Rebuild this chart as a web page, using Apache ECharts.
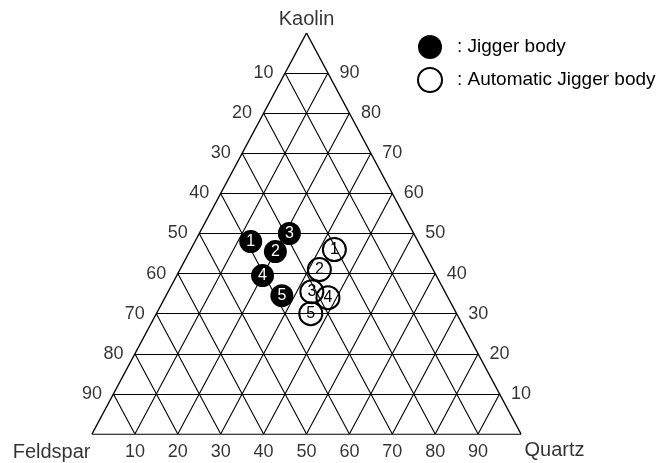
<!DOCTYPE html>
<html>
<head>
<meta charset="utf-8">
<script src="https://cdn.jsdelivr.net/npm/echarts@6/dist/echarts.min.js"></script>
<style>
  html, body { margin: 0; padding: 0; background: #fff; }
  #chart { width: 668px; height: 463px; }
</style>
</head>
<body>
<div id="chart"></div>
<script>
// Ternary composition of the bodies (Kaolin / Feldspar / Quartz, wt%)
const sampleIds = ['1', '2', '3', '4', '5'];

const jiggerKaolin   = [48, 45.5, 50, 39.5, 34.5];
const jiggerFeldspar = [39, 34.5, 29, 40.5, 38.5];
const jiggerQuartz   = [13, 20, 21, 20, 27];

const autoKaolin   = [46, 41, 35.5, 34, 30];
const autoFeldspar = [20.5, 26.5, 31, 28, 34];
const autoQuartz   = [33.5, 32.5, 33.5, 38, 36];

// Grid levels and tick labels on each side of the triangle
const gridLevels   = [10, 20, 30, 40, 50, 60, 70, 80, 90];
const leftTicks    = ['10', '20', '30', '40', '50', '60', '70', '80', '90'];   // Feldspar
const rightTicks   = ['90', '80', '70', '60', '50', '40', '30', '20', '10'];   // Kaolin
const bottomTicks  = ['10', '20', '30', '40', '50', '60', '70', '80', '90'];   // Quartz

const FONT = '"Liberation Sans", Arial, Helvetica, sans-serif';

// ternary (K, F, Q) -> cartesian: apex = Kaolin, bottom-left = Feldspar, bottom-right = Quartz
function toXY(k, f, q) {
  const s = k + f + q;
  return [q / s + (k / s) / 2, k / s];
}

// triangle grid segments
const segments = [];
gridLevels.forEach(v => {
  segments.push({ coords: [toXY(v, 100 - v, 0), toXY(v, 0, 100 - v)] });       // constant Kaolin
  segments.push({ coords: [toXY(0, 100 - v, v), toXY(100 - v, 0, v)] });       // constant Quartz
  segments.push({ coords: [toXY(0, v, 100 - v), toXY(100 - v, v, 0)] });       // constant Feldspar
});
const outline = [
  { coords: [toXY(100, 0, 0), toXY(0, 100, 0)] },
  { coords: [toXY(0, 100, 0), toXY(0, 0, 100)] },
  { coords: [toXY(0, 0, 100), toXY(100, 0, 0)] }
];

function tickPoints(ticks, place) {
  return ticks.map(t => {
    const v = +t;
    let p;
    if (place === 'left') p = toXY(100 - v, v, 0);
    else if (place === 'right') p = toXY(v, 0, 100 - v);
    else p = toXY(0, 100 - v, v);
    return { name: t, value: p };
  });
}

function pointsOf(ks, fs, qs) {
  return ks.map((k, i) => ({ name: sampleIds[i], value: toXY(k, fs[i], qs[i]) }));
}

const hiddenSymbol = { color: 'rgba(0,0,0,0)' };
const tickLabel = (pos, dist) => ({
  show: true, position: pos, distance: dist, formatter: '{b}',
  color: '#000', fontSize: 18, fontFamily: FONT
});

const option = {
  animation: false,
  grid: { left: 92, right: 147, top: 33, bottom: 29 },
  xAxis: { type: 'value', min: 0, max: 1, show: false },
  yAxis: { type: 'value', min: 0, max: 1, show: false },
  legend: {
    orient: 'vertical',
    left: 412, top: 30,
    itemWidth: 24, itemHeight: 24, itemGap: 8,
    selectedMode: false,
    formatter: ': {name}',
    textStyle: { fontSize: 19, fontFamily: FONT, color: '#000', padding: [0, 0, 0, 10] },
    data: [
      { name: 'Jigger body', icon: 'circle', itemStyle: { color: '#000', borderWidth: 0, opacity: 1 } },
      { name: 'Automatic Jigger body', icon: 'circle',
        itemStyle: { color: '#fff', borderColor: '#000', borderWidth: 2, opacity: 1 } }
    ]
  },
  series: [
    {
      type: 'lines', coordinateSystem: 'cartesian2d', silent: true,
      lineStyle: { color: '#000', width: 1.1, opacity: 1 },
      data: segments, z: 1
    },
    {
      type: 'lines', coordinateSystem: 'cartesian2d', silent: true,
      lineStyle: { color: '#000', width: 1.4, opacity: 1 },
      data: outline, z: 1
    },
    {
      type: 'scatter', silent: true, symbolSize: 1, itemStyle: hiddenSymbol,
      label: tickLabel('left', 11), data: tickPoints(leftTicks, 'left')
    },
    {
      type: 'scatter', silent: true, symbolSize: 1, itemStyle: hiddenSymbol,
      label: tickLabel('right', 11), data: tickPoints(rightTicks, 'right')
    },
    {
      type: 'scatter', silent: true, symbolSize: 1, itemStyle: hiddenSymbol,
      label: tickLabel('bottom', 9), data: tickPoints(bottomTicks, 'bottom')
    },
    {
      // corner titles
      type: 'scatter', silent: true, symbolSize: 1, itemStyle: hiddenSymbol,
      data: [
        { name: 'Kaolin', value: toXY(100, 0, 0),
          label: { position: 'top', distance: 3 } },
        { name: 'Feldspar', value: toXY(0, 100, 0),
          label: { position: [-1, 9], align: 'right', verticalAlign: 'top' } },
        { name: 'Quartz', value: toXY(0, 0, 100),
          label: { position: [4, 7], align: 'left', verticalAlign: 'top' } }
      ],
      label: { show: true, formatter: '{b}', color: '#000', fontSize: 20, fontFamily: FONT }
    },
    {
      name: 'Jigger body', type: 'scatter', symbol: 'circle', symbolSize: 23, z: 5,
      itemStyle: { color: '#000', opacity: 1 },
      label: { show: true, position: 'inside', formatter: '{b}', color: '#fff',
               fontSize: 16, fontFamily: FONT },
      emphasis: { disabled: true },
      data: pointsOf(jiggerKaolin, jiggerFeldspar, jiggerQuartz)
    },
    {
      name: 'Automatic Jigger body', type: 'scatter', symbol: 'circle', symbolSize: 23, z: 5,
      itemStyle: { color: 'rgba(255,255,255,0)', borderColor: '#000', borderWidth: 2, opacity: 1 },
      label: { show: true, position: 'inside', formatter: '{b}', color: '#000',
               fontSize: 16, fontFamily: FONT },
      emphasis: { disabled: true },
      data: pointsOf(autoKaolin, autoFeldspar, autoQuartz)
    }
  ]
};

const chart = echarts.init(document.getElementById('chart'), null, { renderer: 'canvas' });
chart.setOption(option);
</script>
</body>
</html>
